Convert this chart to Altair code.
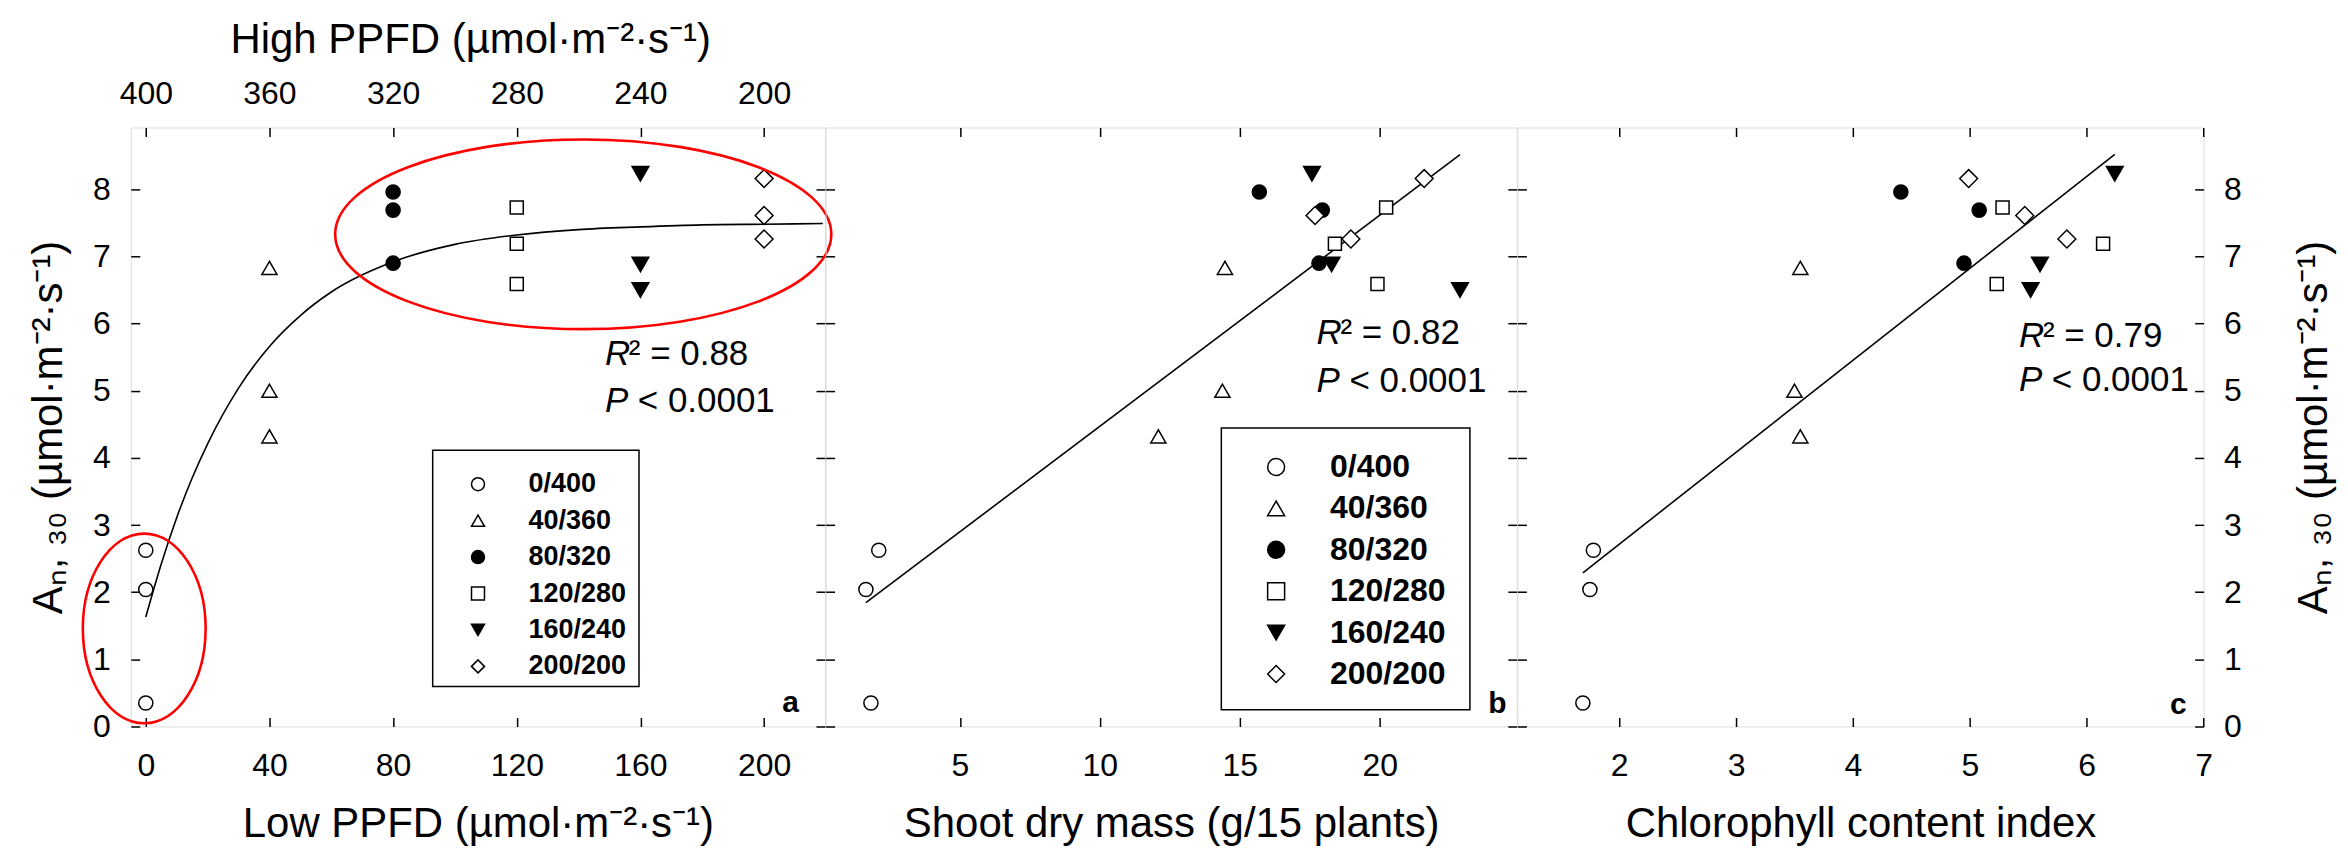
import altair as alt
import pandas as pd

FONT = "Liberation Sans"

# ---------------- data ----------------
groups = ["0/400", "40/360", "80/320", "120/280", "160/240", "200/200"]
treatment = [g for g in groups for _ in range(3)]
low_ppfd = [0, 0, 0, 40, 40, 40, 80, 80, 80, 120, 120, 120, 160, 160, 160, 200, 200, 200]
high_ppfd = [400, 400, 400, 360, 360, 360, 320, 320, 320, 280, 280, 280, 240, 240, 240, 200, 200, 200]
an30 = [2.625, 2.04, 0.35, 6.83, 5.00, 4.32, 7.96, 7.69, 6.90,
        7.73, 7.19, 6.59, 8.23, 6.88, 6.50, 8.16, 7.61, 7.26]
shoot_dry_mass = [2.10, 1.64, 1.82, 14.47, 14.38, 12.09, 15.70, 17.95, 17.83,
                  20.23, 18.40, 19.92, 17.58, 18.28, 22.87, 21.59, 17.69, 18.97]
chlorophyll_index = [1.78, 1.75, 1.69, 3.55, 3.50, 3.55, 4.41, 5.08, 4.95,
                     5.28, 6.14, 5.23, 6.24, 5.60, 5.52, 4.99, 5.47, 5.83]

# fitted curve of panel a
curve_low_ppfd = [0, 5, 10, 15, 20, 30, 40, 50, 60, 80, 100, 120, 140, 160, 180, 200, 219]
curve_an30 = [1.63, 2.42, 3.11, 3.70, 4.21, 5.04, 5.66, 6.12, 6.47, 6.92, 7.18, 7.32,
              7.40, 7.44, 7.47, 7.48, 7.49]

low_ticks = [0, 40, 80, 120, 160, 200]
high_ticks = [400, 360, 320, 280, 240, 200]
mass_ticks = [5, 10, 15, 20]
chl_ticks = [2, 3, 4, 5, 6, 7]
y_ticks = [0, 1, 2, 3, 4, 5, 6, 7, 8]

df = pd.DataFrame({"treatment": treatment, "marker": treatment, "low": low_ppfd, "high": high_ppfd,
                   "an30": an30, "mass": shoot_dry_mass, "chl": chlorophyll_index})
curve_df = pd.DataFrame({"low": curve_low_ppfd, "an30": curve_an30})
one = pd.DataFrame({"k": [0]})

# ---------------- styles ----------------
shapes = ["circle", "triangle-up", "circle", "square", "triangle-down", "diamond"]
fills = ["white", "white", "black", "white", "black", "white"]
strokes = ["black"] * 6
sizes = [200, 230, 200, 170, 280, 320]

W_A, W_B, W_C, H = 695.4, 692.4, 687.4, 600

y_sc = alt.Scale(domain=[0, 8.92], nice=False, zero=False)
xa_sc = alt.Scale(domain=[-4.85, 219.7], nice=False, zero=False)
xh_sc = alt.Scale(domain=[180.3, 404.85], nice=False, zero=False, reverse=True)
xb_sc = alt.Scale(domain=[0.2, 24.9], nice=False, zero=False)
xc_sc = alt.Scale(domain=[1.13, 7.0], nice=False, zero=False)

UNIT = "(\u00b5mol\u00b7m\u207b\u00b2\u00b7s\u207b\u00b9)"
Y_TITLE = "A\u2099, \u2083\u2080 " + UNIT


def axis(orient, values, labels=True, **kw):
    base = dict(orient=orient, values=values, labels=labels,
                tickSize={"expr": "-9"}, tickColor="black", tickWidth=1.5,
                domain=False, grid=False, labelFlush=False, labelOverlap=False,
                labelFont=FONT, labelFontSize=32, labelColor="black",
                titleFont=FONT, titleFontSize=42, titleFontWeight="normal",
                titleColor="black")
    if "title" not in kw:
        base["title"] = None
    base.update(kw)
    return alt.Axis(**base)


def bottom_axis(values, title, width):
    return axis("bottom", values, labelPadding=33, title=title, titleX=width / 2,
                titleY=110, titleBaseline="alphabetic", titleAlign="center")


ax_a_bottom = bottom_axis(low_ticks, "Low PPFD " + UNIT, W_A)
ax_a_left = axis("left", y_ticks, labelPadding=29.6, title=Y_TITLE, titleAngle=270,
                 titleX=-69.6, titleY=H / 2, titleBaseline="alphabetic", titleAlign="center")
ax_a_top = axis("top", high_ticks, labelPadding=26, title="High PPFD " + UNIT,
                titleX=340, titleY=-75, titleBaseline="alphabetic", titleAlign="center")
ax_right_plain = axis("right", y_ticks, labels=False)
ax_left_plain = axis("left", y_ticks, labels=False)

ax_b_bottom = bottom_axis(mass_ticks, "Shoot dry mass (g/15 plants)", W_B)
ax_b_top = axis("top", mass_ticks, labels=False)

ax_c_bottom = bottom_axis(chl_ticks, "Chlorophyll content index", W_C)
ax_c_top = axis("top", chl_ticks, labels=False)
ax_c_right = axis("right", y_ticks, labelPadding=29, title=Y_TITLE, titleAngle=270,
                  titleX=122.8, titleY=H / 2, titleBaseline="alphabetic", titleAlign="center")


def make_legend(x, y, sym_size, lab_off, font_size, row_pad):
    return alt.Legend(title=None, orient="none", legendX=x, legendY=y, direction="vertical",
                      padding=0, symbolSize=sym_size, symbolStrokeColor="black",
                      symbolStrokeWidth=1.5, symbolOffset=0, labelOffset=lab_off,
                      rowPadding=row_pad, labelFont=FONT, labelFontSize=font_size,
                      labelFontWeight="bold", labelColor="black", symbolOpacity=1)


legend_a = make_legend(334.3, 343.8, 169, 37.1, 27, 8.5)
legend_b = make_legend(435.3, 324.0, 289, 38.0, 32, 9.5)


def points(xfield, xsc, xax, yax, legend):
    return alt.Chart(df).mark_point(filled=False, strokeWidth=1.5, opacity=1).encode(
        x=alt.X(f"{xfield}:Q", scale=xsc, axis=xax),
        y=alt.Y("an30:Q", scale=y_sc, axis=yax),
        shape=alt.Shape("treatment:N", scale=alt.Scale(domain=groups, range=shapes), legend=legend),
        fill=alt.Fill("treatment:N", scale=alt.Scale(domain=groups, range=fills), legend=legend),
        stroke=alt.Stroke("treatment:N", scale=alt.Scale(domain=groups, range=strokes), legend=legend),
        size=alt.Size("marker:N", sort=groups, scale=alt.Scale(type="ordinal", range=sizes),
                      legend=None),
    )


def legend_box(x1, x2, y1, y2, xsc, xax, yax):
    return alt.Chart(one).mark_rect(fill="white", stroke="black", strokeWidth=1.5).encode(
        x=alt.XDatum(x1, scale=xsc, axis=xax), x2=alt.X2Datum(x2),
        y=alt.YDatum(y1, scale=y_sc, axis=yax), y2=alt.Y2Datum(y2))


def label(xv, yv, text, xsc, xax, yax, size=35, italic=False, bold=False, dx=0, align="left"):
    return alt.Chart(one).mark_text(
        text=text, font=FONT, fontSize=size, fontStyle="italic" if italic else "normal",
        fontWeight="bold" if bold else "normal", align=align, baseline="alphabetic",
        dx=dx, color="black"
    ).encode(x=alt.XDatum(xv, scale=xsc, axis=xax), y=alt.YDatum(yv, scale=y_sc, axis=yax))


def stats(xv, y1, y2, r2, xsc, xax, yax):
    return [
        label(xv, y1, "R", xsc, xax, yax, italic=True),
        label(xv, y1, "\u00b2 = " + r2, xsc, xax, yax, dx=24),
        label(xv, y2, "P", xsc, xax, yax, italic=True),
        label(xv, y2, "< 0.0001", xsc, xax, yax, dx=33),
    ]


def ellipse(xv, yv, path, size, xsc, xax, yax):
    return alt.Chart(one).mark_point(shape=path, size=size, filled=False, stroke="#ff0000",
                                     strokeWidth=2.6, opacity=1).encode(
        x=alt.XDatum(xv, scale=xsc, axis=xax), y=alt.YDatum(yv, scale=y_sc, axis=yax))


# ---------------- panel a ----------------
curve = alt.Chart(curve_df).mark_line(color="black", strokeWidth=1.6, interpolate="monotone").encode(
    x=alt.X("low:Q", scale=xa_sc, axis=ax_a_bottom),
    y=alt.Y("an30:Q", scale=y_sc, axis=ax_a_left))

main_a = alt.layer(
    curve,
    legend_box(92.80, 159.54, 4.114, 0.595, xa_sc, ax_a_bottom, ax_a_left),
    points("low", xa_sc, ax_a_bottom, ax_a_left, legend_a),
    *stats(148.5, 5.38, 4.68, "0.88", xa_sc, ax_a_bottom, ax_a_left),
    label(211.3, 0.22, "a", xa_sc, ax_a_bottom, ax_a_left, size=30, bold=True, align="right"),
    ellipse(141.5, 7.33, "M -1 0 A 1 0.3823 0 1 1 1 0 A 1 0.3823 0 1 1 -1 0 Z", 497 ** 2,
            xa_sc, ax_a_bottom, ax_a_left),
    ellipse(-0.5, 1.46, "M 0 -1 A 0.6474 1 0 1 1 0 1 A 0.6474 1 0 1 1 0 -1 Z", 190 ** 2,
            xa_sc, ax_a_bottom, ax_a_left),
)
frame_a = alt.Chart(df).mark_point(opacity=0).encode(
    x=alt.X("high:Q", scale=xh_sc, axis=ax_a_top),
    y=alt.Y("an30:Q", scale=y_sc, axis=ax_right_plain))
panel_a = alt.layer(main_a, frame_a).resolve_scale(x="independent", y="independent").properties(
    width=W_A, height=H)

# ---------------- panel b ----------------
fit_b = alt.Chart(df).transform_regression("mass", "an30").mark_line(color="black", strokeWidth=1.6).encode(
    x=alt.X("mass:Q", scale=xb_sc, axis=ax_b_bottom),
    y=alt.Y("an30:Q", scale=y_sc, axis=ax_left_plain))
main_b = alt.layer(
    fit_b,
    legend_box(14.341, 23.224, 4.445, 0.248, xb_sc, ax_b_bottom, ax_left_plain),
    points("mass", xb_sc, ax_b_bottom, ax_left_plain, legend_b),
    *stats(17.74, 5.70, 4.98, "0.82", xb_sc, ax_b_bottom, ax_left_plain),
    label(24.53, 0.2, "b", xb_sc, ax_b_bottom, ax_left_plain, size=30, bold=True, align="right"),
)
frame_b = alt.Chart(df).mark_point(opacity=0).encode(
    x=alt.X("mass:Q", scale=xb_sc, axis=ax_b_top),
    y=alt.Y("an30:Q", scale=y_sc, axis=ax_right_plain))
panel_b = alt.layer(main_b, frame_b).resolve_scale(x="independent", y="independent").properties(
    width=W_B, height=H)

# ---------------- panel c ----------------
fit_c = alt.Chart(df).transform_regression("chl", "an30").mark_line(color="black", strokeWidth=1.6).encode(
    x=alt.X("chl:Q", scale=xc_sc, axis=ax_c_bottom),
    y=alt.Y("an30:Q", scale=y_sc, axis=ax_left_plain))
main_c = alt.layer(
    fit_c,
    points("chl", xc_sc, ax_c_bottom, ax_left_plain, None),
    *stats(5.42, 5.65, 5.00, "0.79", xc_sc, ax_c_bottom, ax_left_plain),
    label(6.855, 0.18, "c", xc_sc, ax_c_bottom, ax_left_plain, size=30, bold=True, align="right"),
)
frame_c = alt.Chart(df).mark_point(opacity=0).encode(
    x=alt.X("chl:Q", scale=xc_sc, axis=ax_c_top),
    y=alt.Y("an30:Q", scale=y_sc, axis=ax_c_right))
panel_c = alt.layer(main_c, frame_c).resolve_scale(x="independent", y="independent").properties(
    width=W_C, height=H)

chart = alt.hconcat(panel_a, panel_b, panel_c, spacing=0, bounds="flush").resolve_scale(
    shape="independent", fill="independent", stroke="independent", size="independent"
).properties(
    padding={"left": 18, "top": 9, "right": 5, "bottom": 5},
    background="white",
).configure_view(stroke="black", strokeWidth=2).configure(font=FONT)

chart.save("out.html", embed_options={"renderer": "svg", "actions": False})
